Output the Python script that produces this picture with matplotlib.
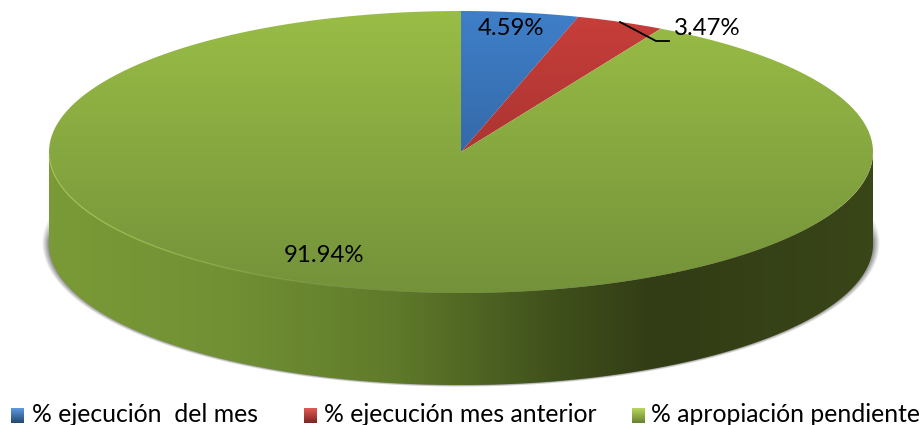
import matplotlib
matplotlib.use("Agg")
import matplotlib.pyplot as plt
from matplotlib.colors import LinearSegmentedColormap
from matplotlib.patches import PathPatch
from matplotlib.path import Path
import numpy as np

labels = ["% ejecución  del mes", "% ejecución mes anterior", "% apropiación pendiente"]
values = [4.59, 3.47, 91.94]
value_text = ["4.59%", "3.47%", "91.94%"]
top_colors = [("#3f7fc9", "#2a5489"), ("#c83e3a", "#8e2c2a"), ("#99bd46", "#74923a")]

CX, CY, RX, RY, DEPTH = 461, 152, 412, 141, 92

plt.rcParams["font.family"] = ["Lato", "DejaVu Sans"]


def ellipse_pts(a0, a1, cy=CY, n=200):
    """Angles in degrees, clockwise from the top of the pie."""
    t = np.radians(np.linspace(a0, a1, n))
    return np.column_stack([CX + RX * np.sin(t), cy - RY * np.cos(t)])


def shape(pts):
    return Path(np.vstack([pts, pts[0]]), closed=True)


def clipped_gradient(ax, path, colors, extent, horizontal=False, zorder=2):
    cmap = LinearSegmentedColormap.from_list("g", colors)
    grad = np.linspace(0, 1, 256)
    grad = grad.reshape(1, -1) if horizontal else grad.reshape(-1, 1)
    im = ax.imshow(grad, cmap=cmap, extent=extent, aspect="auto",
                   origin="upper", zorder=zorder, interpolation="bilinear")
    patch = PathPatch(path, transform=ax.transData, fc="none", ec="none")
    ax.add_patch(patch)
    im.set_clip_path(patch)


fig = plt.figure(figsize=(9.23, 4.25), dpi=100)
ax = fig.add_axes([0, 0, 1, 1])

# soft shadow under the disc
yy, xx = np.mgrid[0:425, 0:923]
dist = np.sqrt(((xx + 0.5 - CX) / 419) ** 2 + ((yy + 0.5 - 243) / 144) ** 2)
rgba = np.zeros((425, 923, 4))
rgba[..., 3] = np.clip((1.0 - dist) * 28, 0, 0.5) * np.clip((yy - 205) / 35, 0, 1)
ax.imshow(rgba, extent=(0, 923, 425, 0), aspect="auto", zorder=1)

# side of the disc
front = ellipse_pts(90, 270)
back = ellipse_pts(270, 90, cy=CY + DEPTH)
side = shape(np.vstack([front, back]))
side_colors = [(0.0, "#7a9a37"), (0.22, "#719034"), (0.42, "#5f7a2a"),
               (0.62, "#3f4f1b"), (0.74, "#323c15"), (1.0, "#394618")]
clipped_gradient(ax, side, side_colors, (49, 873, 425, 0), horizontal=True)

# top of the disc, one slice per value
start = 0.0
for val, cols in zip(values, top_colors):
    end = start + val * 3.6
    pts = np.vstack([[CX, CY], ellipse_pts(start, end)])
    clipped_gradient(ax, shape(pts), cols, (CX - RX, CX + RX, CY + RY, CY - RY), zorder=3)
    start = end

# light rim on the lit part of the front edge, fading towards the middle
rim = ellipse_pts(190, 268, n=40)
for i in range(len(rim) - 1):
    ax.plot(rim[i:i + 2, 0], rim[i:i + 2, 1], color="#a4c552", lw=1.0,
            alpha=0.75 * min(1, i / 20), zorder=4, solid_capstyle="butt")

# data labels and leader line
ax.text(511, 28, value_text[0], fontsize=17.3, ha="center", va="center", color="black", zorder=6)
ax.text(707, 28, value_text[1], fontsize=17.3, ha="center", va="center", color="black", zorder=6)
ax.text(324, 256, value_text[2], fontsize=17.3, ha="center", va="center", color="black", zorder=6)
ax.plot([620, 656, 669], [22, 41, 41], color="black", lw=1.3, zorder=5)

# legend
legend_x = [11, 304, 632]
legend_text_x = [32, 324, 651]
legend_colors = [("#5e9ae0", "#24466f"), ("#e25a55", "#7d2523"), ("#b8d85f", "#66802f")]
for name, mx, tx, cols in zip(labels, legend_x, legend_text_x, legend_colors):
    square = shape(np.array([[mx, 408], [mx + 13, 408], [mx + 13, 423], [mx, 423]]))
    clipped_gradient(ax, square, cols, (mx, mx + 13, 423, 408), zorder=3)
    ax.text(tx, 422, name, fontsize=17.8, ha="left", va="baseline", color="black", zorder=6)

ax.set_xlim(0, 923)
ax.set_ylim(425, 0)
ax.axis("off")
fig.savefig("out.png", dpi=100)
